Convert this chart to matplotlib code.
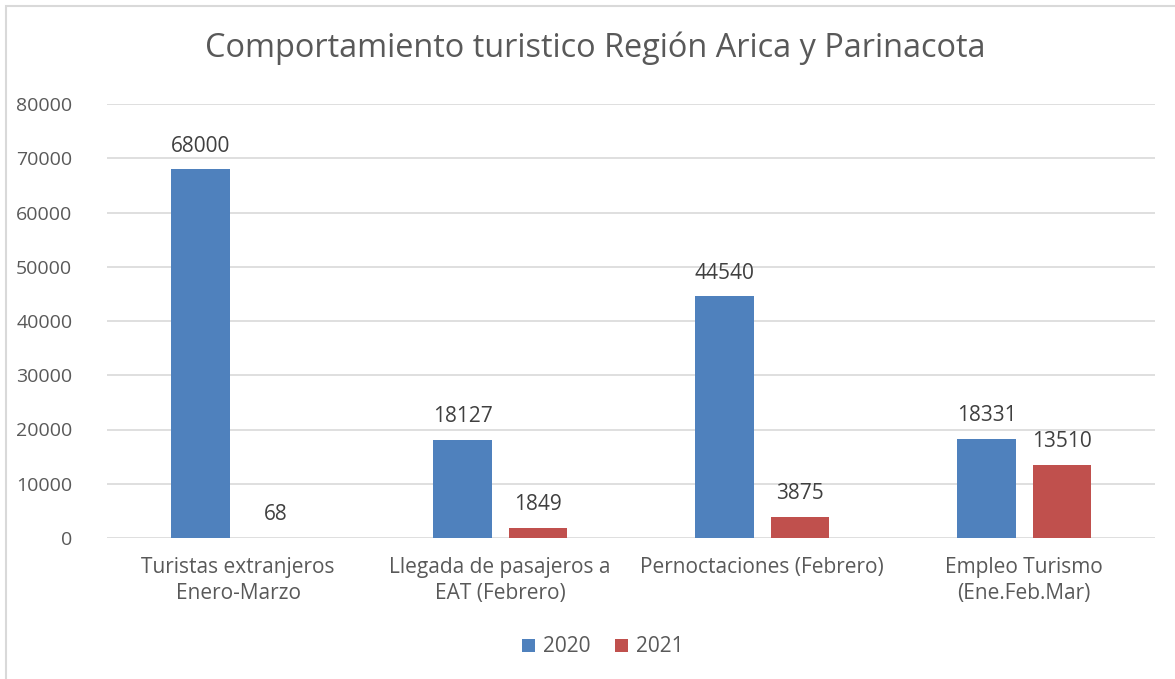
import numpy as np
import matplotlib
matplotlib.use("Agg")
import matplotlib.pyplot as plt
from matplotlib.patches import Rectangle

categories = ["Turistas extranjeros\nEnero-Marzo",
              "Llegada de pasajeros a\nEAT (Febrero)",
              "Pernoctaciones (Febrero)",
              "Empleo Turismo\n(Ene.Feb.Mar)"]
vals_2020 = [68000, 18127, 44540, 18331]
vals_2021 = [68, 1849, 3875, 13510]
series_names = ["2020", "2021"]
yticks = [0, 10000, 20000, 30000, 40000, 50000, 60000, 70000, 80000]

blue = "#4F81BD"
red = "#C0504D"
txt = "#595959"

plt.rcParams['font.family'] = ['Open Sans', 'DejaVu Sans']

fig = plt.figure(figsize=(11.75, 6.79), dpi=100)
ax = fig.add_axes([107/1175, 1-538/679, 1048/1175, 434/679])

x = np.arange(len(categories))
w = 0.222
b1 = ax.bar(x - 0.143, vals_2020, w, color=blue, label=series_names[0], zorder=3)
b2 = ax.bar(x + 0.145, vals_2021, w, color=red, label=series_names[1], zorder=3)

for bars in (b1, b2):
    for r in bars:
        h = r.get_height()
        ax.annotate(str(int(h)), (r.get_x() + r.get_width()/2, h),
                    xytext=(0, 9), textcoords="offset points",
                    ha="center", va="bottom", fontsize=15, color="#404040")

ax.set_xlim(-0.5, 3.5)
ax.set_ylim(0, 80000)
ax.set_yticks(yticks)
ax.set_yticklabels([str(t) for t in yticks], fontsize=14, color=txt)
ax.set_xticks(x)
ax.set_xticklabels(categories, fontsize=15, color=txt, linespacing=1.3)
ax.tick_params(length=0, axis="y", pad=25)
ax.tick_params(length=0, axis="x", pad=14)
ax.grid(axis="y", color="#D9D9D9", linewidth=1.2, zorder=0)
for s in ax.spines.values():
    s.set_visible(False)

fig.text(595/1175, 1-48/679, "Comportamiento turistico Región Arica y Parinacota",
         ha="center", va="center", fontsize=23.4, color=txt)

fig.legend(handles=[b1, b2], loc="center", bbox_to_anchor=(603/1175, 1-647/679),
           ncol=2, frameon=False, fontsize=15, labelcolor=txt,
           handlelength=0.6, handleheight=0.6, handletextpad=0.4, columnspacing=1.2)

fig.patches.append(Rectangle((6/1175, -0.1), 1.2, 1 - 6/679 + 0.1,
                             transform=fig.transFigure, fill=False,
                             edgecolor="#D9D9D9", linewidth=1.5))

fig.savefig("out.png", dpi=100, facecolor="white")
